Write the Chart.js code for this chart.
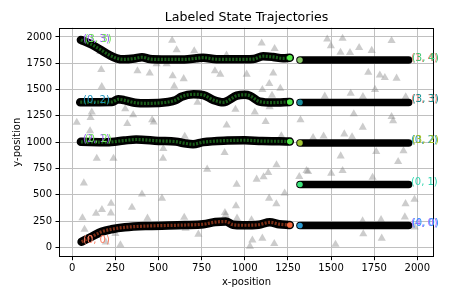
<!DOCTYPE html>
<html><head><meta charset="utf-8">
<script src="https://cdn.jsdelivr.net/npm/chart.js@4/dist/chart.umd.min.js"></script>
<style>html,body{margin:0;padding:0;background:#fff}</style>
</head><body>
<canvas id="c" width="450" height="300"></canvas>
<script>
// ---- tick labels ----
const xTicks = [0, 250, 500, 750, 1000, 1250, 1500, 1750, 2000];
const yTicks = [0, 250, 500, 750, 1000, 1250, 1500, 1750, 2000];
const titleText = 'Labeled State Trajectories';

// ---- trajectories ----
const trajA_x = [50,112,170,215,257,300,360,404,450,520,650,720,759,836,950,1050,1106,1164,1222,1261];
const trajA_y = [1972,1928,1872,1828,1797,1787,1795,1807,1790,1786,1786,1797,1803,1788,1787,1790,1817,1810,1797,1802];
const trajB_x = [46,230,266,300,363,440,556,600,633,703,760,818,876,954,1000,1031,1087,1160,1261];
const trajB_y = [1380,1382,1407,1400,1375,1369,1382,1400,1432,1455,1448,1401,1379,1442,1450,1440,1385,1376,1382];
const trajC_x = [50,200,300,370,500,600,650,700,760,900,1000,1100,1200,1261];
const trajC_y = [1003,1000,1015,1025,1012,1005,990,980,1000,1015,1018,1010,1008,1005];
const trajE_x = [54,112,170,228,305,440,650,760,830,890,932,990,1080,1145,1200,1261];
const trajE_y = [53,101,148,172,190,203,212,220,240,245,215,210,215,238,220,212];
const trajFill = ['#1a5c1a','#1a5c1a','#1a5c1a','#7c2e16'];
const trajEndColors = ['#55e84a','#55e84a','#55e84a','#f4693f'];

// ---- straight segments on the right ----
const barX = [1320, 1950];
const barY = [1780, 1378, 993, 597, 207];
const barStartColors = ['#86c766','#168a9a','#a2c633','#3be27a','#2a9ad2'];

// ---- obstacles (grey triangles) ----
const obsX = [579,605,707,162,489,547,168,378,449,582,646,171,591,827,858,1011,307,113,353,106,26,319,463,472,726,946,895,652,103,1098,1173,894,1165,1142,1102,1206,1158,1058,1144,1121,1323,1212,1478,1567,1851,1499,1663,1555,1610,1736,1716,1783,1812,1880,1755,1614,1464,1685,1933,1632,1851,1860,1684,1577,1457,1622,1396,142,239,528,526,67,404,520,225,346,172,138,224,59,436,649,657,71,250,194,279,883,782,1184,1136,1109,1069,953,1316,1358,1231,1141,1183,949,885,889,955,1039,731,1044,1102,1030,1171,1556,1762,1920,1889,1367,1501,1567,1741,1932,1984,1928,1683,1790,1985,1687,1794,1526];
const obsY = [1967,1876,1867,1860,1743,1743,1689,1677,1655,1629,1602,1527,1531,1677,1645,1645,1315,1285,1258,1232,1187,1175,1211,1190,1377,1312,1161,1054,1106,1940,1888,1826,1655,1555,1499,1510,1444,1285,1336,1194,1211,1060,1979,1986,1964,1916,1898,1853,1850,1871,1662,1637,1613,1607,1500,1463,1436,1432,1429,1268,1242,1201,1141,1077,1056,1049,1042,846,846,937,846,611,505,466,418,380,358,323,326,279,276,285,181,171,129,50,22,900,742,783,709,669,647,599,671,728,514,466,412,393,329,307,276,260,124,69,86,10,34,868,909,916,814,719,704,728,664,414,456,288,250,262,193,128,86,27];

// ---- text labels ----
const labelTexts = ['(0, 3)','(3, 3)','(0, 2)','(2, 1)','(0, 2)','(0, 0)','(1, 4)','(3, 4)','(1, 3)','(3, 3)','(0, 2)','(3, 2)','(0, 1)','(4, 0)','(0, 0)'];
const labelX = [62,72,62,62,72,62,1963,1969,1963,1969,1963,1969,1963,1963,1969];
const labelY = [1948,1948,1372,997,997,41,1767,1767,1382,1382,992,992,588,203,203];
const labelColors = ['#9a5cf5','#6ee05a','#1f8fb8','#9a5cf5','#6ee05a','#fa7e63','#f08070','#3ec873','#f08070','#149494','#2aa0b8','#a0c020','#34d6b0','#a866ff','#3399ff'];

const toPts = (xs, ys) => xs.map((v, i) => ({x: v, y: ys[i]}));
const trajs = [[trajA_x,trajA_y],[trajB_x,trajB_y],[trajC_x,trajC_y],[trajE_x,trajE_y]];

const datasets = [];
datasets.push({
  label: 'obstacles', data: toPts(obsX, obsY), showLine: false,
  pointStyle: 'triangle', pointRadius: 4.7, pointBorderWidth: 0,
  pointBackgroundColor: 'rgba(128,128,128,0.4)', order: 10
});
trajs.forEach((t, i) => {
  const pts = toPts(t[0], t[1]);
  datasets.push({data: pts, showLine: true, borderColor: '#000', borderWidth: 8.5,
    borderCapStyle: 'round', borderJoinStyle: 'round', cubicInterpolationMode: 'monotone',
    pointRadius: 0, order: 8});
  datasets.push({data: pts, showLine: true, borderColor: trajFill[i], borderWidth: 3.2,
    borderDash: [2, 1.4], cubicInterpolationMode: 'monotone', pointRadius: 0, order: 7});
});
barY.forEach((yv) => {
  datasets.push({data: barX.map(xv => ({x: xv, y: yv})), showLine: true, borderColor: '#000',
    borderWidth: 7.5, borderCapStyle: 'round', pointRadius: 0, order: 8});
});
datasets.push({data: trajs.map(t => ({x: t[0][t[0].length-1], y: t[1][t[1].length-1]})),
  showLine: false, pointRadius: 2.8, pointBorderWidth: 0, pointBackgroundColor: trajEndColors, order: 1});
datasets.push({data: barY.map(yv => ({x: barX[0], y: yv})),
  showLine: false, pointRadius: 2.8, pointBorderWidth: 0, pointBackgroundColor: barStartColors, order: 1});

const overlay = {
  id: 'overlay',
  afterDatasetsDraw(chart) {
    const {ctx, chartArea: a, scales: {x, y}} = chart;
    ctx.save();
    ctx.strokeStyle = '#000'; ctx.lineWidth = 1;
    ctx.strokeRect(Math.round(a.left) + 0.5, Math.round(a.top) + 0.5,
      Math.round(a.right - a.left) - 1, Math.round(a.bottom - a.top) - 1);
    ctx.font = '10px "DejaVu Sans"';
    ctx.textAlign = 'left'; ctx.textBaseline = 'alphabetic';
    labelTexts.forEach((t, i) => {
      ctx.fillStyle = labelColors[i];
      ctx.fillText(t, x.getPixelForValue(labelX[i]), y.getPixelForValue(labelY[i]));
    });
    ctx.fillStyle = '#000';
    ctx.font = '12.6px "DejaVu Sans"';
    ctx.textAlign = 'center'; ctx.textBaseline = 'middle';
    ctx.fillText(titleText, (a.left + a.right) / 2, 17.5);
    ctx.restore();
  }
};

const font = {family: '"DejaVu Sans"', size: 10};
new Chart(document.getElementById('c'), {
  type: 'scatter',
  data: {datasets},
  options: {
    responsive: false, animation: false, devicePixelRatio: 1,
    layout: {padding: {left: 0, right: 16, top: 27.7, bottom: 0}},
    plugins: {legend: {display: false}, tooltip: {enabled: false}, title: {display: false}},
    scales: {
      x: {
        type: 'linear', min: -77, max: 2097,
        afterBuildTicks: s => { s.ticks = xTicks.map(v => ({value: v})); },
        afterFit: s => { s.height = 43.3; },
        ticks: {font, color: '#000', padding: 2.1, maxRotation: 0, callback: v => String(v)},
        grid: {color: '#c0c0c0', lineWidth: 1, tickColor: '#000', tickLength: 3.5, tickWidth: 1},
        border: {display: false},
        title: {display: true, text: 'x-position', color: '#000', font, padding: {top: 0, bottom: 11.3}}
      },
      y: {
        type: 'linear', min: -89, max: 2088,
        afterBuildTicks: s => { s.ticks = yTicks.map(v => ({value: v})); },
        afterFit: s => { s.width = 59; },
        ticks: {font, color: '#000', padding: 3.5, callback: v => String(v)},
        grid: {color: '#c0c0c0', lineWidth: 1, tickColor: '#000', tickLength: 3.5, tickWidth: 1},
        border: {display: false},
        title: {display: true, text: 'y-position', color: '#000', font, padding: {top: 11, bottom: 0}}
      }
    }
  },
  plugins: [overlay]
});
</script>
</body></html>
